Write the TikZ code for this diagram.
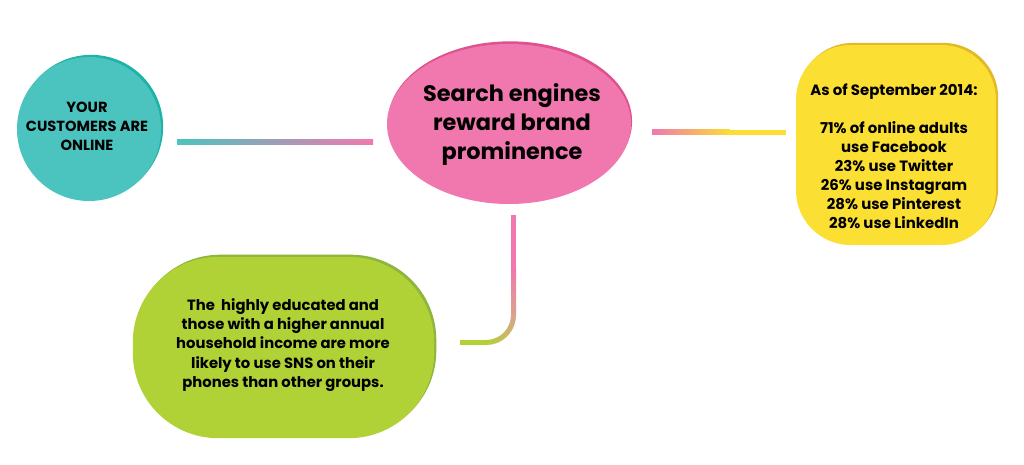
\documentclass[tikz,border=0pt]{standalone}
\usepackage{fontspec}
\setmainfont{Poppins}
\usetikzlibrary{shapes.geometric,shadows,calc}
\definecolor{tealc}{HTML}{4BC4BF}
\definecolor{tealdark}{HTML}{1DB3A8}
\definecolor{pinkc}{HTML}{F178AE}
\definecolor{pinkdark}{HTML}{DE528E}
\definecolor{yellowc}{HTML}{FBDF33}
\definecolor{yellowdark}{HTML}{E3B927}
\definecolor{greenc}{HTML}{B1D236}
\definecolor{greendark}{HTML}{8CB63C}
\definecolor{tanc}{HTML}{D9A38C}
\definecolor{peachc}{HTML}{F6AE88}
\begin{document}
\begin{tikzpicture}[x=0.75pt,y=-0.75pt,
  blob/.style={inner sep=0pt, draw=none},
  txt/.style={align=center, text=black, inner sep=0pt},
  smalltxt/.style={txt, font=\bfseries\fontsize{11}{14.3}\selectfont},
  bigtxt/.style={txt, font=\bfseries\fontsize{16.8}{21.4}\selectfont},
  conn/.style={line width=3.75pt}]
\useasboundingbox (0,0) rectangle (1024,464);
\fill[white] (0,0) rectangle (1024,464);

% shapes
\node[blob, circle, minimum size=108pt, fill=tealc,
  general shadow={fill=tealdark, shadow xshift=1.6pt, shadow yshift=1.6pt}] (cust) at (89,129) {};
\node[blob, ellipse, minimum width=183pt, minimum height=120pt, fill=pinkc,
  general shadow={fill=pinkdark, shadow xshift=0.8pt, shadow yshift=2pt}] (search) at (509,124) {};
\node[blob, rectangle, rounded corners=41pt, minimum width=150pt, minimum height=150pt, fill=yellowc,
  general shadow={fill=yellowdark, shadow xshift=1.6pt, shadow yshift=1.6pt}] (stats) at (896,145) {};
\node[blob, rectangle, rounded corners=64pt, minimum width=226pt, minimum height=136pt, fill=greenc,
  general shadow={fill=greendark, shadow xshift=1.6pt, shadow yshift=1.6pt}] (edu) at (283.5,347.5) {};

% texts
\node[smalltxt] (custtxt) at (87,126) {YOUR\\CUSTOMERS ARE\\ONLINE};
\node[bigtxt] (searchtxt) at (512,124.5) {Search engines\\reward brand\\prominence};
\node[smalltxt, font=\bfseries\fontsize{11.2}{14.25}\selectfont] (statstxt) at (894,156) {As of September 2014:\\\mbox{}\\71\% of online adults\\use Facebook\\23\% use Twitter\\26\% use Instagram\\28\% use Pinterest\\28\% use LinkedIn};
\node[smalltxt, font=\bfseries\fontsize{11.1}{14.5}\selectfont] (edutxt) at (283,345) {The\ \ highly educated and\\those with a higher annual\\household income are more\\likely to use SNS on their\\phones than other groups.};

% connector: customers -- search
\coordinate (c1a) at (177,141.5);
\coordinate (c1b) at (373,141.5);
\shade[left color=tealc, right color=pinkc] ($(c1a)+(0,-2.5)$) rectangle ($(c1b)+(0,2.5)$);

% connector: search -- stats
\coordinate (c2a) at (652,132);
\coordinate (c2m) at (730,132);
\coordinate (c2b) at (786,132);
\shade[left color=pinkc, middle color=peachc, right color=yellowc] ($(c2a)+(0,-2.5)$) rectangle ($(c2m)+(0,2.5)$);
\fill[yellowc] ($(c2m)+(-0.3,-2.5)$) rectangle ($(c2b)+(0,2.5)$);

% connector: search -- edu
\coordinate (c3a) at (513.5,215);
\coordinate (c3m) at (513.5,268);
\coordinate (c3c) at (513.5,315);
\coordinate (c3o) at (486,315);
\coordinate (c3d) at (486,342.5);
\coordinate (c3e) at (460,342.5);
\fill[pinkc] ($(c3a)+(-2.5,0)$) rectangle ($(c3m)+(2.5,0)$);
\shade[top color=pinkc, bottom color=tanc] ($(c3m)+(-2.5,-0.3)$) rectangle ($(c3c)+(2.5,0.3)$);
\foreach \i in {0,...,17} {
  \pgfmathsetmacro\aa{\i*5}
  \pgfmathsetmacro\bb{\i*5+5.6}
  \pgfmathsetmacro\pp{100-\i*100/18}
  \draw[conn, color=tanc!\pp!greenc] ($(c3o)+({27.5*cos(\aa)},{27.5*sin(\aa)})$) -- ($(c3o)+({27.5*cos(\bb)},{27.5*sin(\bb)})$);
}
\fill[greenc] ($(c3e)+(0,-2.5)$) rectangle ($(c3d)+(0.3,2.5)$);
\end{tikzpicture}
\end{document}
